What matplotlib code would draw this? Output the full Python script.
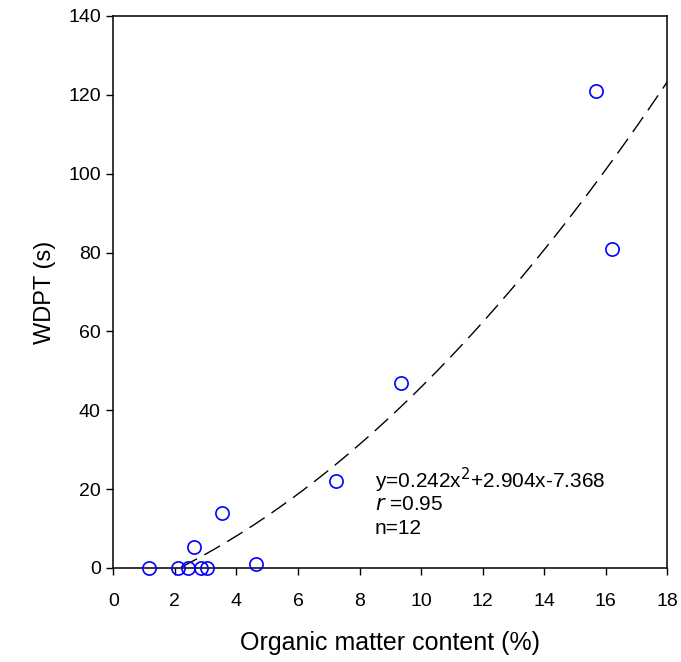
import numpy as np
import matplotlib.pyplot as plt

plt.rcParams['font.family'] = ['Liberation Sans', 'DejaVu Sans']

# organic matter (%) and water drop penetration time (s)
om = [1.17, 2.11, 2.42, 2.85, 3.05, 4.63, 2.63, 3.52, 7.24, 9.34, 15.68, 16.2]
wdpt = [0, 0, 0, 0, 0, 1, 5.4, 14, 22, 47, 121, 81]

# fitted quadratic from the chart's label
coef = [0.242, 2.904, -7.368]

fig = plt.figure(figsize=(6.81, 6.62), dpi=100)
ax = fig.add_axes([0.1664, 0.142, 0.8136, 0.834])

xs = np.linspace(2.2, 18, 200)
ys = np.polyval(coef, xs)
ax.plot(xs, ys, color='black', lw=1.0, dashes=(13, 6), zorder=2)

ax.plot(om, wdpt, 'o', mfc='none', mec='blue', mew=1.2, ms=9.5, zorder=3,
        clip_on=False)

ax.set_xlim(0, 18)
ax.set_ylim(0, 140)
ax.set_xticks(range(0, 19, 2))
ax.set_yticks(range(0, 141, 20))
ax.tick_params(direction='out', length=5, width=1, labelsize=14)
ax.tick_params(axis='x', pad=13)
ax.tick_params(axis='y', pad=4)
for s in ax.spines.values():
    s.set_linewidth(1.1)

ax.set_xlabel('Organic matter content (%)', fontsize=18, labelpad=15)
ax.set_ylabel('WDPT (s)', fontsize=17, labelpad=9)

ax.text(8.5, 22.3, r'y=0.242x$^2$+2.904x-7.368', fontsize=15, va='center')
ax.text(8.5, 16, r'$\it{r}$ =0.95', fontsize=15, va='center')
ax.text(8.5, 10.1, 'n=12', fontsize=15, va='center')

fig.savefig('out.png', dpi=100)
